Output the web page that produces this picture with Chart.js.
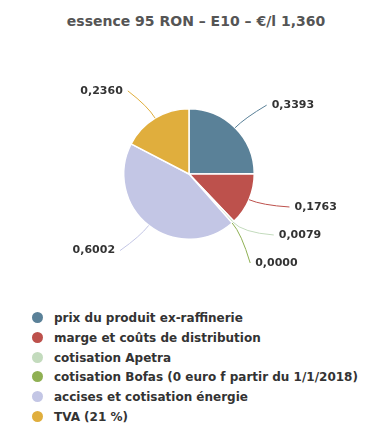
<!DOCTYPE html>
<html>
<head>
<meta charset="utf-8">
<script src="https://cdn.jsdelivr.net/npm/chart.js@4"></script>
<style>
  html, body { margin: 0; padding: 0; background: #fff; }
  #wrap { position: relative; width: 370px; height: 441px; overflow: hidden; }
  #title { position: absolute; top: 13px; left: 0; width: 392px; text-align: center;
           font: bold 14px "DejaVu Sans", sans-serif; color: #555; }
  #chart { position: absolute; top: 0; left: 0; }
  #legend { position: absolute; top: 311px; left: 32px; list-style: none; margin: 0; padding: 0; }
  #legend li { height: 19.8px; line-height: 19.8px; white-space: nowrap;
               font: bold 12px "DejaVu Sans", sans-serif; color: #333; }
  #legend span { display: inline-block; width: 11px; height: 11px; border-radius: 50%;
                 margin-right: 11px; vertical-align: -1px; }
</style>
</head>
<body>
<div id="wrap">
  <div id="title">essence 95 RON – E10 – €/l 1,360</div>
  <canvas id="chart" width="370" height="300"></canvas>
  <ul id="legend"></ul>
</div>
<script>
const categories = [
  'prix du produit ex-raffinerie',
  'marge et coûts de distribution',
  'cotisation Apetra',
  'cotisation Bofas (0 euro f partir du 1/1/2018)',
  'accises et cotisation énergie',
  'TVA (21 %)'
];
const values = [0.3393, 0.1763, 0.0079, 0.0000, 0.6002, 0.2360];
const colors = ['#5a8198', '#bd514c', '#c3dbbd', '#8fb053', '#c3c6e5', '#e0ae3d'];

const fmt = v => v.toFixed(4).replace('.', ',');

// spread labels on one side so they don't overlap
function spread(items, gap) {
  items.sort((a, b) => a.ty - b.ty);
  const groups = items.map(it => ({ list: [it], sum: it.ty }));
  let merged = true;
  while (merged) {
    merged = false;
    for (let i = 0; i < groups.length - 1; i++) {
      const g = groups[i], h = groups[i + 1];
      const gEnd = g.sum / g.list.length + (g.list.length - 1) * gap / 2;
      const hStart = h.sum / h.list.length - (h.list.length - 1) * gap / 2;
      if (hStart - gEnd < gap) {
        g.list = g.list.concat(h.list);
        g.sum += h.sum;
        groups.splice(i + 1, 1);
        merged = true;
        break;
      }
    }
  }
  groups.forEach(g => {
    const c = g.sum / g.list.length;
    g.list.forEach((it, k) => { it.y = c + (k - (g.list.length - 1) / 2) * gap; });
  });
}

const pieLabels = {
  id: 'pieLabels',
  afterDatasetsDraw(chart) {
    const ctx = chart.ctx;
    const meta = chart.getDatasetMeta(0);
    const left = [], right = [];
    meta.data.forEach((arc, i) => {
      const p = arc.getProps(['x', 'y', 'startAngle', 'endAngle', 'outerRadius'], true);
      const mid = (p.startAngle + p.endAngle) / 2;
      const R = p.outerRadius + 32;
      const item = { i, p, mid, R, ty: p.y + R * Math.sin(mid) };
      (Math.cos(mid) >= 0 ? right : left).push(item);
    });
    spread(right, 28);
    spread(left, 28);
    ctx.save();
    ctx.font = 'bold 11px "DejaVu Sans", sans-serif';
    ctx.textBaseline = 'middle';
    ctx.lineWidth = 1;
    [[right, 1], [left, -1]].forEach(([list, side]) => {
      list.forEach(it => {
        const { p, mid } = it;
        const dy = it.y - p.y;
        const dx = Math.max(Math.sqrt(Math.max(it.R * it.R - dy * dy, 0)), p.outerRadius * 0.8) + 9;
        const ax = p.x + side * dx;
        const sx = p.x + p.outerRadius * Math.cos(mid), sy = p.y + p.outerRadius * Math.sin(mid);
        const bx = p.x + (p.outerRadius + 14) * Math.cos(mid), by = p.y + (p.outerRadius + 14) * Math.sin(mid);
        ctx.strokeStyle = colors[it.i];
        ctx.beginPath();
        ctx.moveTo(sx, sy);
        ctx.quadraticCurveTo(bx, by, ax, it.y);
        ctx.stroke();
        ctx.fillStyle = '#333';
        ctx.textAlign = side > 0 ? 'left' : 'right';
        ctx.fillText(fmt(values[it.i]), ax + side * 5, it.y);
      });
    });
    ctx.restore();
  }
};

new Chart(document.getElementById('chart'), {
  type: 'pie',
  data: {
    labels: categories,
    datasets: [{
      data: values,
      backgroundColor: colors,
      borderColor: '#fff',
      borderWidth: 1.5
    }]
  },
  options: {
    responsive: false,
    animation: false,
    layout: { padding: { left: 123, right: 115, top: 108, bottom: 60 } },
    plugins: {
      legend: { display: false },
      tooltip: { enabled: false }
    }
  },
  plugins: [pieLabels]
});

const legend = document.getElementById('legend');
categories.forEach((c, i) => {
  const li = document.createElement('li');
  const dot = document.createElement('span');
  dot.style.background = colors[i];
  li.appendChild(dot);
  li.appendChild(document.createTextNode(c));
  legend.appendChild(li);
});
</script>
</body>
</html>
